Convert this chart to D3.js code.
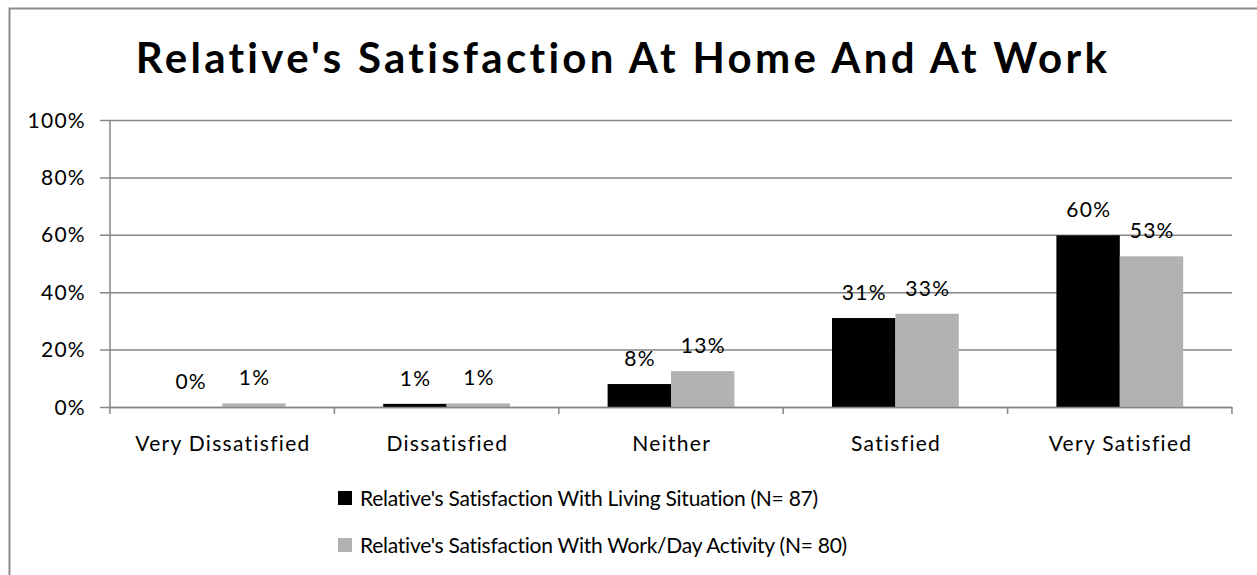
<!DOCTYPE html>
<html>
<head>
<meta charset="utf-8">
<script src="https://cdn.jsdelivr.net/npm/d3@7"></script>
<style>
  body { margin: 0; background: #fff; }
  svg text { font-family: Lato, "Open Sans", sans-serif; fill: #000; }
</style>
</head>
<body>
<div id="chart"></div>
<script>
var categories = ["Very Dissatisfied", "Dissatisfied", "Neither", "Satisfied", "Very Satisfied"];
var seriesNames = [
  "Relative's Satisfaction With Living Situation (N= 87)",
  "Relative's Satisfaction With Work/Day Activity (N= 80)"
];
var livingValues = [0, 1.1, 8, 31, 59.8];
var workValues = [1.25, 1.25, 12.5, 32.5, 52.5];
var yTicks = [0, 20, 40, 60, 80, 100];
var colors = ["#000000", "#b2b2b2"];

var W = 1257, H = 575;
var svg = d3.select("#chart").append("svg").attr("width", W).attr("height", H);

// frame
svg.append("rect").attr("x", 9.5).attr("y", 8.5).attr("width", W + 20).attr("height", H + 20)
  .attr("fill", "none").attr("stroke", "#8c8c8c").attr("stroke-width", 2);

svg.append("text").attr("x", 623).attr("y", 73).attr("text-anchor", "middle")
  .style("font-size", "42px").style("font-weight", "bold").style("letter-spacing", "3.3px")
  .text("Relative's Satisfaction At Home And At Work");

var x = d3.scaleBand().domain(categories).range([110, 1232]);
var y = d3.scaleLinear().domain([0, 100]).range([407, 120]);
var inner = d3.scaleBand().domain([0, 1]).range([0, x.bandwidth()]).paddingOuter(0.77).paddingInner(0);

// gridlines + y axis
var g = svg.append("g");
g.selectAll(".grid").data(yTicks).enter().append("line")
  .attr("x1", 100).attr("x2", 1232)
  .attr("y1", function (d) { return y(d) + 0.5; }).attr("y2", function (d) { return y(d) + 0.5; })
  .attr("stroke", "#868686").attr("stroke-width", 1.5);
g.append("line").attr("x1", 110).attr("x2", 110).attr("y1", y(100)).attr("y2", y(0))
  .attr("stroke", "#868686").attr("stroke-width", 1.5);
g.selectAll(".ylab").data(yTicks).enter().append("text")
  .attr("x", 86).attr("y", function (d) { return y(d) + 7.5; })
  .attr("text-anchor", "end").style("font-size", "21px").style("letter-spacing", "1.3px")
  .text(function (d) { return d + "%"; });

// bars
var data = categories.map(function (c, i) { return {cat: c, vals: [livingValues[i], workValues[i]]}; });
var groups = svg.selectAll(".cat").data(data).enter().append("g")
  .attr("transform", function (d) { return "translate(" + x(d.cat) + ",0)"; });
groups.selectAll("rect").data(function (d) { return d.vals; }).enter().append("rect")
  .attr("x", function (d, i) { return inner(i); })
  .attr("width", inner.bandwidth())
  .attr("y", function (d) { return y(d); })
  .attr("height", function (d) { return y(0) - y(d); })
  .attr("fill", function (d, i) { return colors[i]; });
groups.selectAll(".lab").data(function (d) { return d.vals; }).enter().append("text")
  .attr("x", function (d, i) { return inner(i) + inner.bandwidth() / 2 + 0.7; })
  .attr("y", function (d) { return y(d) - 18; })
  .attr("text-anchor", "middle").style("font-size", "21px").style("letter-spacing", "1.3px")
  .text(function (d) { return Math.round(d) + "%"; });

// x axis
svg.append("line").attr("x1", 110).attr("x2", 1232).attr("y1", 407.5).attr("y2", 407.5)
  .attr("stroke", "#868686").attr("stroke-width", 1.5);
var bounds = categories.map(function (c) { return x(c); }).concat([1232]);
svg.selectAll(".xtick").data(bounds).enter().append("line")
  .attr("x1", function (d) { return d; }).attr("x2", function (d) { return d; })
  .attr("y1", 407).attr("y2", 414).attr("stroke", "#868686").attr("stroke-width", 1.5);
svg.selectAll(".xlab").data(categories).enter().append("text")
  .attr("x", function (d) { return x(d) + x.bandwidth() / 2 + 0.7; }).attr("y", 451)
  .attr("text-anchor", "middle").style("font-size", "21px").style("letter-spacing", "1.3px")
  .text(function (d) { return d; });

// legend
var leg = svg.selectAll(".leg").data(seriesNames).enter().append("g")
  .attr("transform", function (d, i) { return "translate(338," + (491 + i * 47) + ")"; });
leg.append("rect").attr("width", 14).attr("height", 14).attr("fill", function (d, i) { return colors[i]; });
leg.append("text").attr("x", 22).attr("y", 15).style("font-size", "21px").style("letter-spacing", "-0.25px")
  .text(function (d) { return d; });
</script>
</body>
</html>
